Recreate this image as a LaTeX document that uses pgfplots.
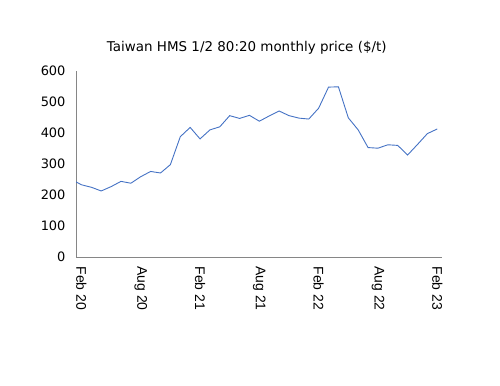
\documentclass[border=0pt]{standalone}
\usepackage{fontspec}
\setmainfont{DejaVu Sans}
\newfontfamily\arialfont{Liberation Sans}
\usepackage{pgfplots}
\pgfplotsset{compat=1.18}
\definecolor{lineblue}{HTML}{4472C4}
\definecolor{axgray}{HTML}{868686}
\begin{document}
\begin{tikzpicture}
\useasboundingbox (0,0) rectangle (500bp,386bp);
\begin{axis}[
  at={(76bp,129bp)}, anchor=south west,
  scale only axis,
  width=365.7bp, height=186bp,
  xmin=-0.55, xmax=36.45,
  ymin=0, ymax=600,
  ytick={0,100,...,600},
  xtick={0,6,12,18,24,30,36},
  xticklabels={Feb 20,Aug 20,Feb 21,Aug 21,Feb 22,Aug 22,Feb 23},
  axis x line*=bottom, axis y line*=left,
  axis line style={draw=axgray, line width=0.8pt, -},
  major tick length=0pt,
  /pgf/number format/assume math mode=true,
  yticklabel style={font=\fontsize{13}{15}\selectfont, xshift=-7bp},
  xticklabel style={font=\arialfont\fontsize{14}{16}\selectfont, rotate=-90, anchor=west, xshift=6bp},
  title={Taiwan HMS 1/2 80:20 monthly price (\$/t)},
  title style={font=\fontsize{13.5}{16}\selectfont, anchor=center, at={(axis description cs:0.467,1.09)}},
  clip=true,
]
\addplot[lineblue, line width=0.9pt] coordinates {
(-1,250) (0,233) (1,225) (2,213) (3,227) (4,244) (5,238) (6,259) (7,276) (8,271)
(9,298) (10,388) (11,418) (12,381) (13,410) (14,420) (15,456) (16,447) (17,457)
(18,438) (19,455) (20,471) (21,456) (22,448) (23,445) (24,480) (25,548) (26,549)
(27,449) (28,410) (29,353) (30,351) (31,362) (32,360) (33,329) (34,363) (35,398)
(36,413)
};
\end{axis}
\end{tikzpicture}
\end{document}
